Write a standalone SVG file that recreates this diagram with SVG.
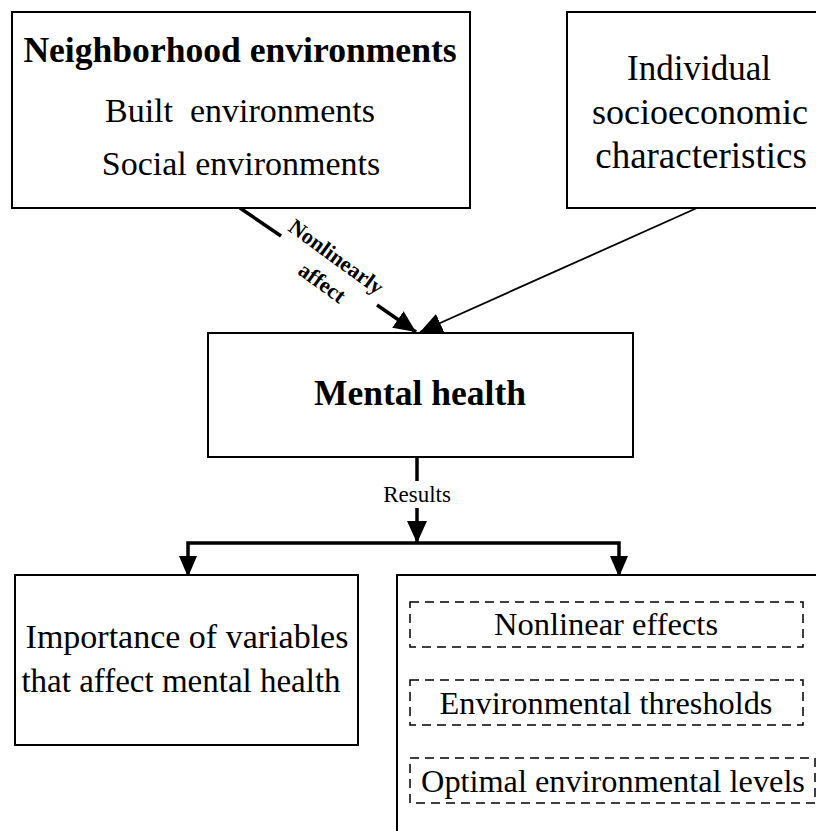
<svg xmlns="http://www.w3.org/2000/svg" width="816" height="831" viewBox="0 0 816 831">
<defs>
<style>
.box{fill:#fff;stroke:#000;stroke-width:2}
.dbox{fill:none;stroke:#000;stroke-width:1.5;stroke-dasharray:9,6}
.t{font-family:"Liberation Serif","Times New Roman",serif;fill:#000;text-anchor:middle}
.b{font-weight:bold}
.thick{stroke:#000;stroke-width:3.5;fill:none}
.thin{stroke:#000;stroke-width:1.8;fill:none}
</style>
<marker id="ah" markerUnits="userSpaceOnUse" markerWidth="24" markerHeight="22" refX="22" refY="10" orient="auto">
<path d="M0,0 L22,10 L0,20 z" fill="#000"/>
</marker>
</defs>
<rect width="816" height="831" fill="#fff"/>
<g id="connectors">
<line class="thick" x1="240" y1="208" x2="281" y2="236"/>
<line class="thick" x1="377" y1="305" x2="416" y2="332" marker-end="url(#ah)"/>
<line class="thin" x1="697" y1="208" x2="420" y2="332" marker-end="url(#ah)"/>
<line class="thick" x1="417" y1="457" x2="417" y2="481"/>
<line class="thick" x1="417" y1="508" x2="417" y2="543" marker-end="url(#ah)"/>
<polyline class="thick" points="188,576 188,543 619,543 619,576"/>
<path d="M179,556 L197,556 L188,577 z" fill="#000"/>
<path d="M610,556 L628,556 L619,577 z" fill="#000"/>
<text class="t b" font-size="22" transform="translate(336,257) rotate(36)" y="7">Nonlinearly</text>
<text class="t b" font-size="22" transform="translate(322,283) rotate(36)" y="7">affect</text>
<text class="t" font-size="23" x="417" y="502">Results</text>
</g>
<g id="neighborhood">
<rect class="box" x="12" y="12" width="458" height="196"/>
<text class="t b" font-size="35.6" x="240" y="62">Neighborhood environments</text>
<text class="t" font-size="34" x="240" y="122" xml:space="preserve">Built  environments</text>
<text class="t" font-size="34" x="241" y="175">Social environments</text>
</g>
<g id="individual">
<rect class="box" x="567" y="12" width="260" height="196"/>
<text class="t" font-size="35" x="699" y="80">Individual</text>
<text class="t" font-size="36" x="700" y="124">socioeconomic</text>
<text class="t" font-size="37" x="701" y="168">characteristics</text>
</g>
<g id="mental-health">
<rect class="box" x="208" y="333" width="425" height="124"/>
<text class="t b" font-size="35.5" x="420" y="405">Mental health</text>
</g>
<g id="importance">
<rect class="box" x="15" y="575" width="343" height="170"/>
<text class="t" font-size="34" x="187" y="648">Importance of variables</text>
<text class="t" font-size="33" x="181" y="692">that affect mental health</text>
</g>
<g id="results-box">
<rect class="box" x="397" y="575" width="430" height="270"/>
<g id="nonlinear-effects">
<rect class="dbox" x="410" y="602" width="393" height="45"/>
<text class="t" font-size="32.5" x="606" y="635">Nonlinear effects</text>
</g>
<g id="thresholds">
<rect class="dbox" x="410" y="680" width="393" height="45"/>
<text class="t" font-size="32.3" x="606" y="714">Environmental thresholds</text>
</g>
<g id="optimal">
<rect class="dbox" x="410" y="758" width="405" height="45"/>
<text class="t" font-size="32.3" x="613" y="792">Optimal environmental levels</text>
</g>
</g>
</svg>
